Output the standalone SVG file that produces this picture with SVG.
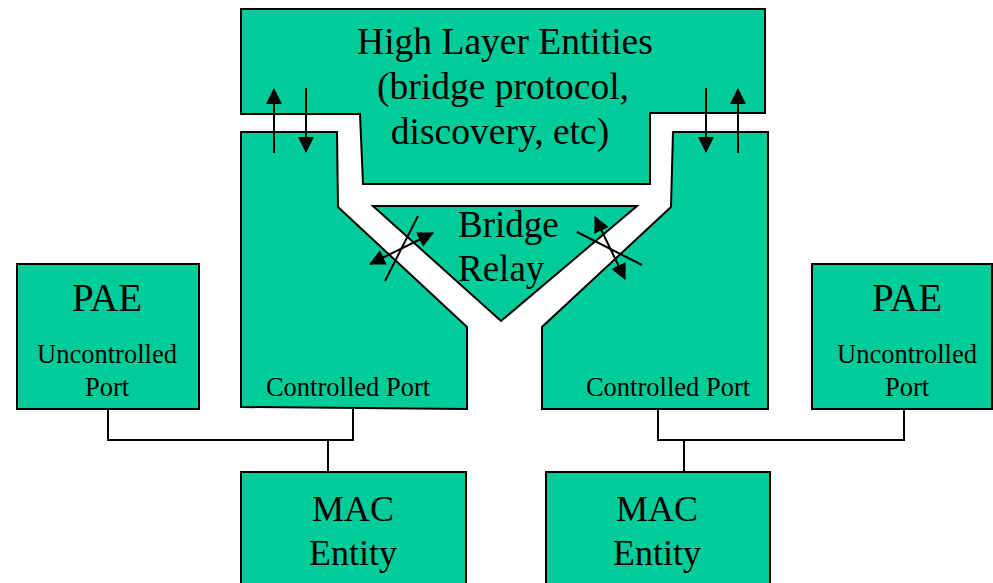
<svg xmlns="http://www.w3.org/2000/svg" width="993" height="583" viewBox="0 0 993 583">
<defs>
<marker id="ah" viewBox="0 0 16 16" refX="15" refY="8" markerWidth="16" markerHeight="16" markerUnits="userSpaceOnUse" orient="auto-start-reverse">
<path d="M0,0 L16,8 L0,16 Z" fill="#000"/>
</marker>
<style>
.shape{fill:#00CC99;stroke:#000;stroke-width:2;stroke-linejoin:miter}
.big{font-family:"Liberation Serif","Times New Roman",serif;font-size:37px;fill:#000;text-anchor:middle}
.small{font-family:"Liberation Serif","Times New Roman",serif;font-size:26.5px;fill:#000;text-anchor:middle}
.conn{fill:none;stroke:#000;stroke-width:2}
.arr{fill:none;stroke:#000;stroke-width:2}
</style>
</defs>
<rect width="993" height="583" fill="#fff"/>

<g id="high-layer">
<path class="shape" d="M241,9 L765,9 L765,113 L650,113 L650,184 L363,184 L360,114 L241,114 Z"/>
<text class="big" x="505" y="54" style="font-size:37.5px">High Layer Entities</text>
<text class="big" x="503" y="99" style="font-size:37.5px">(bridge protocol,</text>
<text class="big" x="500" y="144" style="font-size:37.5px">discovery, etc)</text>
</g>

<g id="left-controlled-port">
<path class="shape" d="M241,132 L337,132 L338,207 L467,327 L467,409 L241,407 Z"/>
<text class="small" x="348" y="396">Controlled Port</text>
</g>

<g id="right-controlled-port">
<path class="shape" d="M673,132 L768,132 L768,409 L542,409 L542,327 L671,207 Z"/>
<text class="small" x="668" y="396">Controlled Port</text>
</g>

<g id="bridge-relay">
<path class="shape" d="M373,206 L637,206 L501,321 Z"/>
<text class="big" x="458" y="237" style="text-anchor:start">Bridge</text>
<text class="big" x="458" y="281" style="text-anchor:start">Relay</text>
</g>

<g id="left-pae">
<rect class="shape" x="17" y="264" width="182" height="145"/>
<text class="big" x="107" y="311" style="font-size:39px">PAE</text>
<text class="small" x="107" y="363">Uncontrolled</text>
<text class="small" x="107" y="396">Port</text>
</g>

<g id="right-pae">
<rect class="shape" x="812" y="264" width="180" height="145"/>
<text class="big" x="907" y="311" style="font-size:39px">PAE</text>
<text class="small" x="907" y="363">Uncontrolled</text>
<text class="small" x="907" y="396">Port</text>
</g>

<g id="left-mac">
<rect class="shape" x="241" y="472" width="225" height="130"/>
<text class="big" x="353" y="521" style="font-size:36px">MAC</text>
<text class="big" x="353" y="565" style="font-size:36px">Entity</text>
</g>

<g id="right-mac">
<rect class="shape" x="546" y="472" width="224" height="130"/>
<text class="big" x="657" y="521" style="font-size:36px">MAC</text>
<text class="big" x="657" y="565" style="font-size:36px">Entity</text>
</g>

<g id="connectors">
<polyline class="conn" points="108,409 108,440 353,440 353,408"/>
<line class="conn" x1="328" y1="440" x2="328" y2="472"/>
<polyline class="conn" points="658,409 658,440 904,440 904,409"/>
<line class="conn" x1="684" y1="440" x2="684" y2="472"/>

<line class="arr" x1="274" y1="153" x2="274" y2="89" marker-end="url(#ah)"/>
<line class="arr" x1="306" y1="88" x2="306" y2="152" marker-end="url(#ah)"/>
<line class="arr" x1="706" y1="88" x2="706" y2="152" marker-end="url(#ah)"/>
<line class="arr" x1="738" y1="153" x2="738" y2="89" marker-end="url(#ah)"/>

<line class="conn" x1="418" y1="216" x2="385" y2="281"/>
<line class="arr" x1="370" y1="264" x2="433" y2="233" marker-start="url(#ah)" marker-end="url(#ah)"/>
<line class="conn" x1="577" y1="232" x2="642" y2="265"/>
<line class="arr" x1="595" y1="217" x2="625" y2="279" marker-start="url(#ah)" marker-end="url(#ah)"/>
</g>
</svg>
